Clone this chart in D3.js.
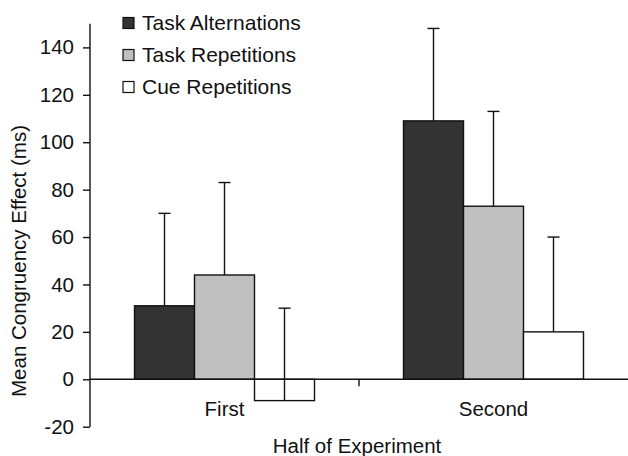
<!DOCTYPE html>
<html>
<head>
<meta charset="utf-8">
<script src="https://cdn.jsdelivr.net/npm/d3@7"></script>
<style>
  html, body { margin: 0; padding: 0; background: #fff; }
  svg { display: block; }
  text { font-family: "Liberation Sans", Arial, Helvetica, sans-serif; fill: #111; }
</style>
</head>
<body>
<svg id="chart" width="628" height="456"></svg>
<script>
// Halves of the experiment (x categories)
const categories = ["First", "Second"];
// Trial types (series)
const seriesNames = ["Task Alternations", "Task Repetitions", "Cue Repetitions"];
const seriesColors = ["#333333", "#c0c0c0", "#ffffff"];
// Mean congruency effect (ms) per half, one array per series
const taskAlternations = [31, 109];
const taskRepetitions = [44, 73];
const cueRepetitions = [-9, 20];
// Upper error bar lengths (ms)
const errAlternations = [39, 39];
const errRepetitions = [39, 40];
const errCue = [39, 40];
// Y axis tick values
const yTicks = [-20, 0, 20, 40, 60, 80, 100, 120, 140];

const values = [taskAlternations, taskRepetitions, cueRepetitions];
const errors = [errAlternations, errRepetitions, errCue];

const rows = [];
categories.forEach((c, ci) => {
  seriesNames.forEach((s, si) => {
    rows.push({ cat: c, series: s, si, value: values[si][ci], err: errors[si][ci] });
  });
});

const svg = d3.select("#chart");
const axisX = 90, rightX = 628;
const fs = 20.5;
const y = d3.scaleLinear().domain([-20, 150]).range([426.7, 23.7]);

const x0 = d3.scaleBand().domain(categories).range([axisX, rightX]).padding(0);
const groupW = 180;
const x1 = d3.scaleBand().domain(seriesNames)
  .range([(x0.bandwidth() - groupW) / 2, (x0.bandwidth() + groupW) / 2]).padding(0);

const ink = "#111";

// Bars
svg.append("g").selectAll("rect").data(rows).join("rect")
  .attr("x", d => x0(d.cat) + x1(d.series))
  .attr("y", d => y(Math.max(0, d.value)))
  .attr("width", x1.bandwidth())
  .attr("height", d => Math.abs(y(d.value) - y(0)))
  .attr("fill", d => seriesColors[d.si])
  .attr("stroke", ink)
  .attr("stroke-width", 1.4);

// Error bars (upward only)
const eb = svg.append("g").attr("stroke", ink).attr("stroke-width", 1.4);
const capW = 12;
eb.selectAll("line.stem").data(rows).join("line").attr("class", "stem")
  .attr("x1", d => x0(d.cat) + x1(d.series) + x1.bandwidth() / 2)
  .attr("x2", d => x0(d.cat) + x1(d.series) + x1.bandwidth() / 2)
  .attr("y1", d => y(d.value))
  .attr("y2", d => y(d.value + d.err));
eb.selectAll("line.cap").data(rows).join("line").attr("class", "cap")
  .attr("x1", d => x0(d.cat) + x1(d.series) + x1.bandwidth() / 2 - capW / 2)
  .attr("x2", d => x0(d.cat) + x1(d.series) + x1.bandwidth() / 2 + capW / 2)
  .attr("y1", d => y(d.value + d.err))
  .attr("y2", d => y(d.value + d.err));

// Y axis (plain hyphen for negatives)
const yAxis = d3.axisLeft(y).tickValues(yTicks).tickSize(7).tickPadding(9).tickSizeOuter(0)
  .tickFormat(d => String(d));
const gy = svg.append("g").attr("transform", `translate(${axisX},0)`).call(yAxis);
gy.select(".domain").attr("stroke", ink).attr("stroke-width", 1.4)
  .attr("d", `M0,${y(-20)}V${y(150)}`);
gy.selectAll(".tick line").attr("stroke", ink).attr("stroke-width", 1.4);
gy.selectAll(".tick text").attr("font-size", fs).attr("fill", "#111")
  .attr("font-family", "'Liberation Sans', Arial, sans-serif");

// X axis along zero, with ticks at category boundaries
const gx = svg.append("g").attr("transform", `translate(0,${y(0)})`);
gx.append("line").attr("x1", axisX).attr("x2", rightX).attr("y1", 0).attr("y2", 0)
  .attr("stroke", ink).attr("stroke-width", 1.4);
const boundaries = categories.slice(1).map(c => x0(c));
gx.selectAll("line.tick").data(boundaries).join("line").attr("class", "tick")
  .attr("x1", d => d).attr("x2", d => d).attr("y1", 0).attr("y2", 7)
  .attr("stroke", ink).attr("stroke-width", 1.4);

// Category labels
svg.append("g").selectAll("text").data(categories).join("text")
  .attr("x", d => x0(d) + x0.bandwidth() / 2)
  .attr("y", 416)
  .attr("text-anchor", "middle")
  .attr("font-size", fs)
  .text(d => d);

// Axis titles
svg.append("text")
  .attr("x", 357)
  .attr("y", 453)
  .attr("text-anchor", "middle")
  .attr("font-size", fs)
  .text("Half of Experiment");

svg.append("text")
  .attr("transform", `translate(26,261) rotate(-90)`)
  .attr("text-anchor", "middle")
  .attr("font-size", fs)
  .text("Mean Congruency Effect (ms)");

// Legend
const legend = svg.append("g").attr("transform", "translate(123,0)");
const li = legend.selectAll("g").data(seriesNames).join("g")
  .attr("transform", (d, i) => `translate(0,${17.5 + i * 32})`);
li.append("rect").attr("width", 11).attr("height", 11)
  .attr("fill", (d, i) => seriesColors[i]).attr("stroke", ink).attr("stroke-width", 1.2);
li.append("text").attr("x", 19).attr("y", 12).attr("font-size", 21).text(d => d);
</script>
</body>
</html>
